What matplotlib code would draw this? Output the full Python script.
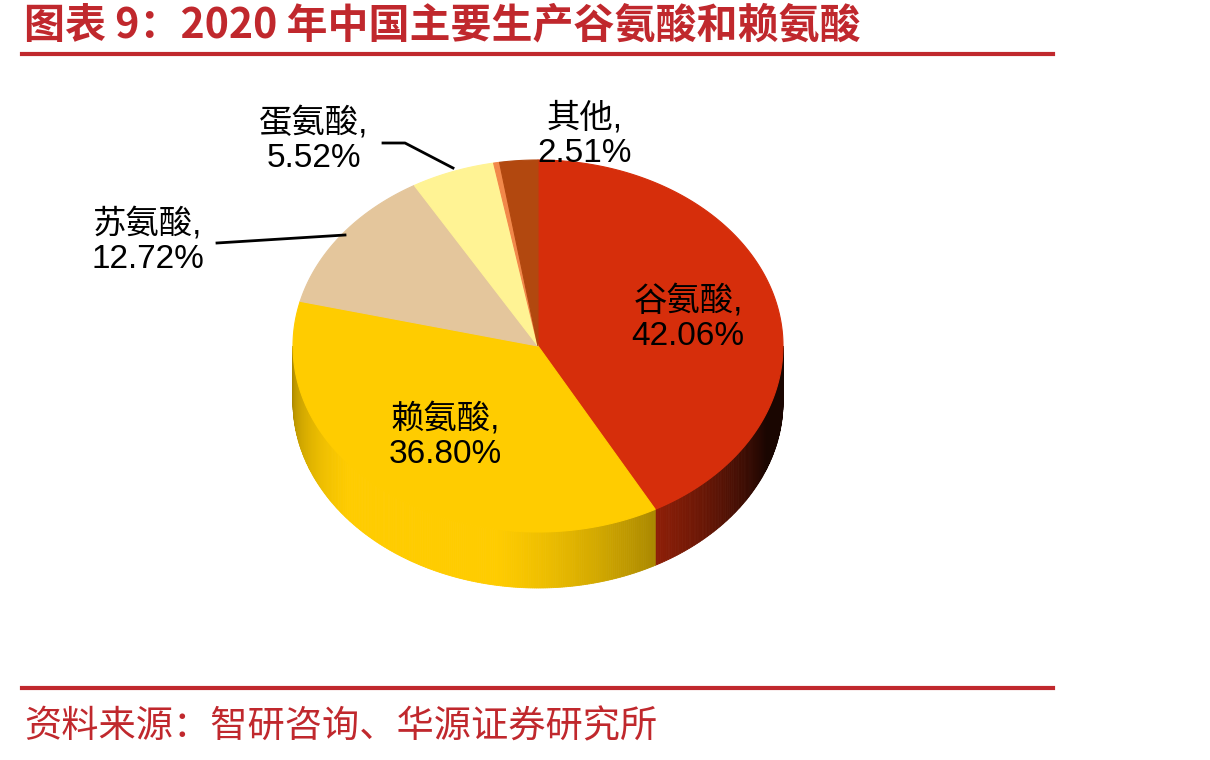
import numpy as np
import matplotlib.pyplot as plt
from matplotlib.patches import Polygon
from matplotlib.colors import to_rgb

plt.rcParams['font.family'] = ['Liberation Sans', 'Noto Sans CJK SC', 'DejaVu Sans']

# data
names = ['谷氨酸', '赖氨酸', '苏氨酸', '蛋氨酸', '', '其他']
shares = [42.06, 36.80, 12.72, 5.52, 0.39, 2.51]
colors = ['#D62E0B', '#FFCC00', '#E4C69C', '#FFF394', '#F2884A', '#B2480F']
label_pos = [(688, 318), (445, 436), (148, 241), (314, 140), None, (585, 135)]

title = '图表 9：2020 年中国主要生产谷氨酸和赖氨酸'
source = '资料来源：智研咨询、华源证券研究所'
red = '#C0282D'

fig = plt.figure(figsize=(12.1, 7.6), dpi=100)
ax = fig.add_axes([0, 0, 1, 1])
ax.set_xlim(0, 1210)
ax.set_ylim(760, 0)
ax.axis('off')

# pie geometry (pixels)
cx, cy, rx, ry, depth = 538, 346, 245, 186, 56


def pt(t, dy=0):
    r = np.radians(t)
    return cx + rx * np.cos(r), cy - ry * np.sin(r) + dy


vals = np.array(shares)
ends = 90 - np.cumsum(vals) / vals.sum() * 360
starts = np.concatenate([[90], ends[:-1]])

# side walls (front half only), shaded strips
for s, e, c in zip(starts, ends, colors):
    lo, hi = min(s, e), max(s, e)
    for base in (-360, 0):
        a0, a1 = max(lo - base, 180), min(hi - base, 360)
        if a1 <= a0:
            continue
        ts = np.linspace(a0, a1, int((a1 - a0) * 2) + 2)
        for t0, t1 in zip(ts[:-1], ts[1:]):
            tm = (t0 + t1) / 2
            f = np.clip(0.25 + 0.8 * np.cos(np.radians(tm - 240)), 0.12, 1.0)
            col = np.clip(np.array(to_rgb(c)) * f, 0, 1)
            p0, p1 = pt(t0), pt(t1)
            q1, q0 = pt(t1, depth), pt(t0, depth)
            ax.add_patch(Polygon([p0, p1, q1, q0], closed=True, fc=col, ec=col, lw=0.6))

# top faces
for s, e, c in zip(starts, ends, colors):
    ts = np.linspace(s, e, max(int(abs(s - e) * 2), 3))
    verts = [(cx, cy)] + [pt(t) for t in ts]
    ax.add_patch(Polygon(verts, closed=True, fc=c, ec=c, lw=0.8, zorder=3))

# labels
for n, v, p in zip(names, shares, label_pos):
    if p is None:
        continue
    ax.text(p[0], p[1], f'{n},\n{v:.2f}%', ha='center', va='center',
            fontsize=24, color='black', linespacing=1.15, zorder=5)

# leader lines
ax.plot([217, 345], [243, 235], color='black', lw=2, zorder=4)
ax.plot([383, 405, 453], [143, 143, 168], color='black', lw=2, zorder=4)

# title, rules and source
ax.text(24, 25, title, ha='left', va='center', fontsize=29.5, fontweight='bold',
        color=red, family=['Noto Sans CJK SC', 'DejaVu Sans'])
ax.plot([22, 1053], [54, 54], color=red, lw=3)
ax.plot([22, 1053], [688, 688], color=red, lw=3)
ax.text(24, 727, source, ha='left', va='center', fontsize=26.8,
        color=red, family=['Noto Sans CJK SC', 'DejaVu Sans'])

fig.savefig('out.png', dpi=100)
